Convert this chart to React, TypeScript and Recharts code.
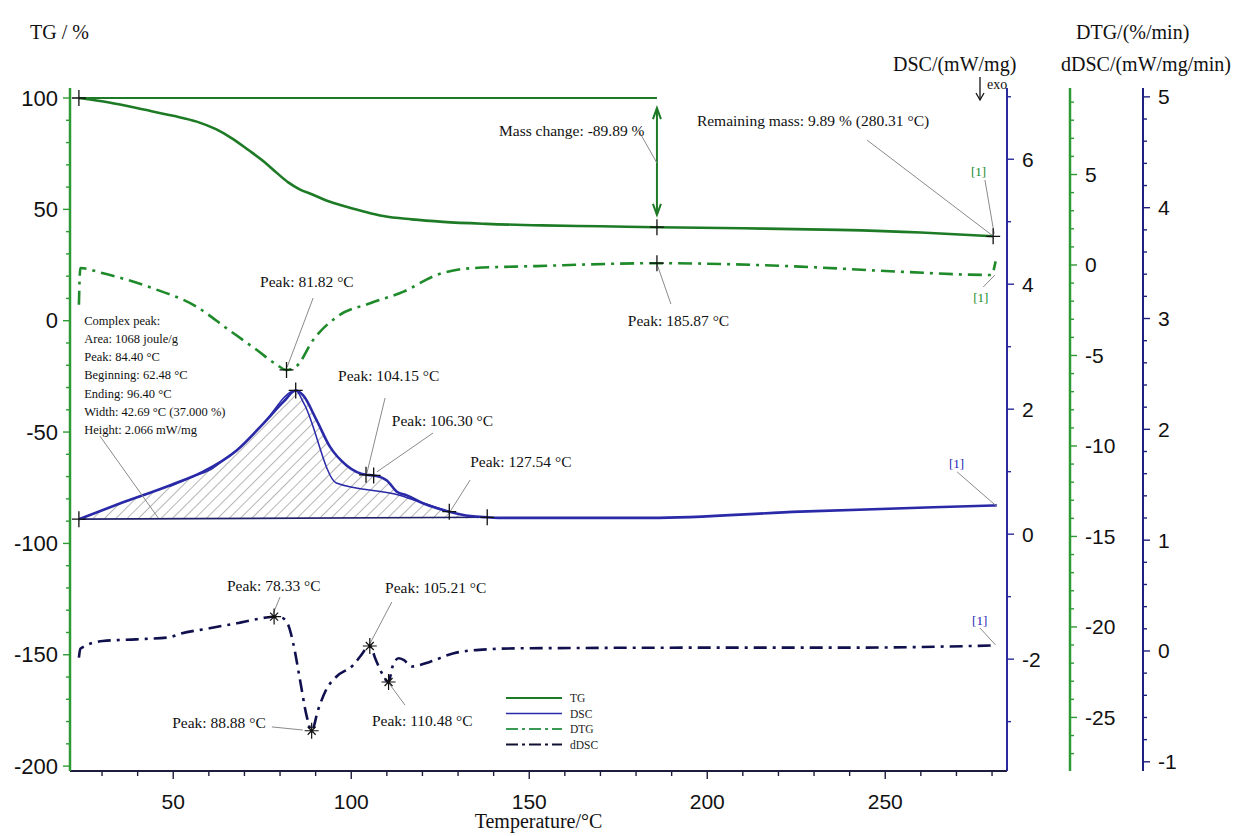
import React from 'react';
import { ComposedChart, Line, Area, XAxis, YAxis, ReferenceLine, ReferenceDot, Legend } from 'recharts';

const SERIF = '"Liberation Serif", "Times New Roman", serif';
const SANS = '"Liberation Sans", Arial, sans-serif';

// ---------- data ----------
// TG (%)
const tgTemp = [23.5, 32, 42.1, 50, 56.6, 62, 66.6, 71, 75.6, 79, 82.3, 85.5, 88.9, 93, 97.9, 103, 109, 117, 125.8, 138, 153.6, 170, 185.87, 210, 237, 260, 280.31];
const tgVal = [100, 98.0, 94.7, 92.0, 89.4, 86.0, 81.8, 76.8, 71.3, 66.5, 62.1, 59.0, 56.8, 54.0, 51.5, 49.3, 47.0, 45.5, 44.4, 43.5, 42.8, 42.4, 42.0, 41.5, 40.8, 39.6, 37.9];

// DTG (%/min)
const dtgTemp = [23.5, 23.9, 30, 44, 56.5, 65, 73.5, 79, 81.82, 84.7, 89.3, 96, 105.5, 114.7, 124, 133.5, 152, 185.87, 226, 254, 279.8, 281.0];
const dtgVal = [-2.2, -0.17, -0.44, -1.27, -2.3, -3.5, -4.7, -5.5, -5.8, -5.58, -4.14, -2.86, -2.1, -1.47, -0.55, -0.18, -0.06, 0.1, -0.09, -0.37, -0.55, 0.2];

// DSC (mW/mg)
const dscTemp = [23.5, 35, 49, 58.4, 67.8, 75.3, 81, 84.4, 86.5, 90.3, 94, 98.7, 104.15, 106.3, 110, 112.8, 115.6, 120.3, 127.54, 133.5, 138.2, 142, 184, 226, 263.5, 281.3];
const dscVal = [0.24, 0.49, 0.78, 1.0, 1.34, 1.77, 2.12, 2.30, 2.22, 1.82, 1.40, 1.10, 0.95, 0.94, 0.86, 0.68, 0.62, 0.49, 0.36, 0.29, 0.27, 0.26, 0.26, 0.36, 0.43, 0.46];
const peakEnd = 138.2;
const peakBase = 0.25;

// peak separation line of the complex DSC peak
const sepTemp = [49, 56, 61, 64.5, 67.8, 75.3, 84.4, 86.8, 95.8, 113.8, 118, 127.54];
const sepVal = [0.76, 0.93, 1.05, 1.2, 1.34, 1.77, 2.30, 2.08, 0.82, 0.62, 0.54, 0.36];

// integration baseline
const baseTemp = [23.5, 138.2];
const baseVal = [0.24, 0.27];

// dDSC (mW/mg/min)
const ddscTemp = [23.5, 23.9, 30.2, 39.6, 49, 51.8, 60.2, 67.8, 76.8, 78.33, 80.5, 82.3, 83.7, 85.6, 87.5, 88.88, 90.7, 93.1, 95.9, 100.6, 102.5, 105.21, 106.9, 108.6, 110.48, 111.6, 113.3, 114.7, 117, 122.2, 128.8, 138.2, 147.6, 200, 240, 281];
const ddscVal = [-0.06, 0.02, 0.09, 0.105, 0.124, 0.153, 0.205, 0.25, 0.305, 0.31, 0.30, 0.235, 0.07, -0.26, -0.59, -0.72, -0.53, -0.34, -0.23, -0.126, -0.05, 0.045, -0.08, -0.2, -0.28, -0.14, -0.066, -0.08, -0.14, -0.097, -0.02, 0.015, 0.024, 0.03, 0.03, 0.05];

// tick labels
const tempTicks = [50, 100, 150, 200, 250];
const tgTicks = [-200, -150, -100, -50, 0, 50, 100];
const dscTicks = [-2, 0, 2, 4, 6];
const dtgTicks = [-25, -20, -15, -10, -5, 0, 5];
const ddscTicks = [-1, 0, 1, 2, 3, 4, 5];

// axis ids (alphabetical order = stacking order of the right-hand axes)
const AX_TG = 'a0_tg';
const AX_DSC = 'r1_dsc';
const AX_DTG = 'r2_dtg';
const AX_DDSC = 'r3_ddsc';

// ---------- helpers ----------
const range = (a: number, b: number, s: number) => {
  const out: number[] = [];
  for (let v = a; v <= b + s / 1000; v += s) out.push(Math.round(v * 1000) / 1000);
  return out;
};
const zip = (ts: number[], vs: number[]) => ts.map((t, i) => ({ t, v: vs[i] }));

const tgData = zip(tgTemp, tgVal);
const dtgData = zip(dtgTemp, dtgVal);
const dscData = zip(dscTemp, dscVal);
const hatchData = dscData.filter((d) => d.t <= peakEnd);
const sepData = zip(sepTemp, sepVal);
const baseData = zip(baseTemp, baseVal);
const ddscData = zip(ddscTemp, ddscVal);

const C_TG = '#1d7a25';
const C_TG_AX = '#2f9a35';
const C_DTG = '#1f8a2a';
const C_DSC = '#2a2aa8';
const C_DSC_AX = '#2a2a9a';
const C_DDSC = '#10104e';
const C_DDSC_AX = '#202080';
const C_LEAD = '#8a8a8a';
const C_G1 = '#148c2a';
const C_B1 = '#2424b8';

const isMajor = (v: number, majors: number[]) => majors.some((m) => Math.abs(m - v) < 1e-6);

const makeYTick = (side: 'left' | 'right', majors: number[], color: string, fontSize: number) => (p: any) => {
  const { x, y, payload } = p;
  const v = payload.value;
  const major = isMajor(v, majors);
  const len = major ? 7 : 4;
  const dir = side === 'left' ? -1 : 1;
  return (
    <g>
      <line x1={x} y1={y} x2={x + dir * len} y2={y} stroke={color} strokeWidth={1.4} />
      {major && (
        <text x={x + dir * (len + (side === 'left' ? 5 : 8))} y={y} textAnchor={side === 'left' ? 'end' : 'start'}
          dominantBaseline="central" fontFamily={SANS} fontSize={fontSize} fill="#111">{String(v)}</text>
      )}
    </g>
  );
};

const XTick = (p: any) => {
  const { x, y, payload } = p;
  const major = isMajor(payload.value, tempTicks);
  const len = major ? 8 : 5;
  return (
    <g>
      <line x1={x} y1={y} x2={x} y2={y + len} stroke="#1c1c3c" strokeWidth={1.4} />
      {major && (
        <text x={x} y={y + 30} textAnchor="middle" dominantBaseline="central" fontFamily={SANS} fontSize={21} fill="#111">{String(payload.value)}</text>
      )}
    </g>
  );
};

// ---------- annotations (data coordinates on the TG axis) ----------
const notes = [
  { text: 'Mass change: -89.89 %', t: 141.5, v: 85.2, color: '#111' },
  { text: 'Remaining mass: 9.89 % (280.31 °C)', t: 197.1, v: 89.7, color: '#111' },
  { text: '[1]', t: 274.1, v: 67.2, color: C_G1 },
  { text: 'Peak: 81.82 °C', t: 74.4, v: 17.4, color: '#111' },
  { text: 'Peak: 185.87 °C', t: 177.7, v: 0.3, color: '#111' },
  { text: '[1]', t: 274.7, v: 10.6, color: C_G1 },
  { text: 'Peak: 104.15 °C', t: 96.3, v: -24.4, color: '#111' },
  { text: 'Peak: 106.30 °C', t: 111.4, v: -44.6, color: '#111' },
  { text: 'Peak: 127.54 °C', t: 133.4, v: -63.4, color: '#111' },
  { text: '[1]', t: 267.9, v: -63.9, color: C_B1 },
  { text: 'Peak: 78.33 °C', t: 65.1, v: -118.7, color: '#111' },
  { text: 'Peak: 105.21 °C', t: 109.5, v: -120.0, color: '#111' },
  { text: 'Peak: 88.88 °C', t: 49.7, v: -180.6, color: '#111' },
  { text: 'Peak: 110.48 °C', t: 105.8, v: -179.3, color: '#111' },
  { text: '[1]', t: 274.4, v: -134.4, color: C_B1 },
];

const complexLines = [
  'Complex peak:',
  'Area: 1068 joule/g',
  'Peak: 84.40 °C',
  'Beginning: 62.48 °C',
  'Ending: 96.40 °C',
  'Width: 42.69 °C (37.000 %)',
  'Height: 2.066 mW/mg',
];

const leaders: number[][] = [
  [181.1, 84.3, 185.87, 70.8],
  [244.9, 81.1, 280.31, 38.0],
  [278.0, 63.2, 280.6, 39.0],
  [89.3, 10.2, 82.0, -20.8],
  [185.87, 25.5, 189.8, 7.5],
  [277.5, 15.1, 280.8, 20.5],
  [29.4, -51.8, 45.8, -88.6],
  [109.5, -34.7, 104.4, -68.4],
  [123.0, -50.4, 107.2, -67.9],
  [133.4, -71.5, 127.7, -85.9],
  [270.2, -67.9, 281.2, -83.2],
  [80.0, -124.1, 77.7, -133.0],
  [111.4, -126.3, 104.9, -146.1],
  [77.7, -182.4, 86.4, -183.8],
  [115.1, -172.6, 110.3, -162.2],
  [276.6, -138.0, 281.0, -145.6],
];

const crosses = [
  { t: 23.5, v: 100, axis: AX_TG },
  { t: 185.87, v: 42.0, axis: AX_TG },
  { t: 280.31, v: 37.9, axis: AX_TG },
  { t: 81.82, v: -5.8, axis: AX_DTG },
  { t: 185.87, v: 0.1, axis: AX_DTG },
  { t: 23.5, v: 0.24, axis: AX_DSC },
  { t: 84.4, v: 2.3, axis: AX_DSC },
  { t: 104.15, v: 0.95, axis: AX_DSC },
  { t: 106.3, v: 0.94, axis: AX_DSC },
  { t: 127.54, v: 0.36, axis: AX_DSC },
  { t: 138.2, v: 0.27, axis: AX_DSC },
];
const stars = [
  { t: 78.33, v: 0.31 },
  { t: 88.88, v: -0.72 },
  { t: 105.21, v: 0.045 },
  { t: 110.48, v: -0.28 },
];

const legendRows = [
  { name: 'TG', color: C_TG, dash: undefined as string | undefined, w: 2.2 },
  { name: 'DSC', color: C_DSC, dash: undefined, w: 1.6 },
  { name: 'DTG', color: '#3a9a55', dash: '12 4 3 4', w: 2 },
  { name: 'dDSC', color: '#111133', dash: '12 4 3 4', w: 2 },
];

const renderLegend = () => (
  <svg width={150} height={70}>
    {legendRows.map((r, i) => (
      <g key={r.name}>
        <line x1={6} x2={62} y1={10 + i * 15.5} y2={10 + i * 15.5} stroke={r.color} strokeWidth={r.w} strokeDasharray={r.dash} />
        <text x={70} y={10 + i * 15.5} dominantBaseline="central" fontFamily={SERIF} fontSize={11.5} fill="#222">{r.name}</text>
      </g>
    ))}
  </svg>
);

const titleStyle: React.CSSProperties = { position: 'absolute', fontFamily: SERIF, fontSize: 20, color: '#111', whiteSpace: 'nowrap', lineHeight: '20px' };

export default function App() {
  return (
    <div style={{ position: 'absolute', left: 0, top: 0, width: 1255, height: 836, background: '#fff' }}>
      <svg width={0} height={0} style={{ position: 'absolute' }}>
        <defs>
          <pattern id="hatch" width={8} height={8} patternUnits="userSpaceOnUse" patternTransform="rotate(45)">
            <line x1={0} y1={0} x2={0} y2={8} stroke="#6e6e6e" strokeWidth={1} />
          </pattern>
        </defs>
      </svg>
      <ComposedChart width={1255} height={836} margin={{ top: 88, right: 52, bottom: 0, left: 0 }}>
        <XAxis type="number" dataKey="t" domain={[21, 284.2]} allowDataOverflow ticks={range(30, 280, 10)} interval={0}
          tick={XTick} tickLine={false} tickSize={0} tickMargin={0} height={65}
          axisLine={{ stroke: '#1c1c3c', strokeWidth: 2 }}
          label={{ value: 'Temperature/°C', position: 'insideBottom', offset: 8, fill: '#111', fontSize: 20, fontFamily: SERIF }} />
        <YAxis yAxisId={AX_TG} orientation="left" width={70} type="number" domain={[-202.2, 104.5]} allowDataOverflow
          ticks={range(-200, 100, 10)} interval={0} tick={makeYTick('left', tgTicks, C_TG_AX, 22)} tickLine={false} tickSize={0} tickMargin={0}
          axisLine={{ stroke: C_TG_AX, strokeWidth: 2.5 }} />
        <YAxis yAxisId={AX_DSC} orientation="right" width={63} type="number" domain={[-3.79, 7.14]} allowDataOverflow
          ticks={range(-3, 7, 1)} interval={0} tick={makeYTick('right', dscTicks, C_DSC_AX, 21)} tickLine={false} tickSize={0} tickMargin={0}
          axisLine={{ stroke: C_DSC_AX, strokeWidth: 2 }} />
        <YAxis yAxisId={AX_DTG} orientation="right" width={73} type="number" domain={[-27.96, 9.78]} allowDataOverflow
          ticks={range(-27, 9, 1)} interval={0} tick={makeYTick('right', dtgTicks, C_TG_AX, 21)} tickLine={false} tickSize={0} tickMargin={0}
          axisLine={{ stroke: C_TG_AX, strokeWidth: 2.5 }} />
        <YAxis yAxisId={AX_DDSC} orientation="right" width={60} type="number" domain={[-1.083, 5.08]} allowDataOverflow
          ticks={range(-1, 5, 0.2)} interval={0} tick={makeYTick('right', ddscTicks, C_DDSC_AX, 21)} tickLine={false} tickSize={0} tickMargin={0}
          axisLine={{ stroke: C_DDSC_AX, strokeWidth: 2 }} />

        <Area data={hatchData} dataKey="v" yAxisId={AX_DSC} type="monotone" baseValue={peakBase} fill="url(#hatch)" fillOpacity={1}
          stroke="none" isAnimationActive={false} dot={false} activeDot={false} legendType="none" />
        <Line data={baseData} dataKey="v" yAxisId={AX_DSC} type="linear" stroke="#22226a" strokeWidth={1.6} dot={false} isAnimationActive={false} legendType="none" />
        <Line data={sepData} dataKey="v" yAxisId={AX_DSC} type="monotone" stroke={C_DSC} strokeWidth={1.5} dot={false} isAnimationActive={false} legendType="none" />

        <Line name="TG" data={tgData} dataKey="v" yAxisId={AX_TG} type="monotone" stroke={C_TG} strokeWidth={2.6} dot={false} isAnimationActive={false} />
        <Line name="DSC" data={dscData} dataKey="v" yAxisId={AX_DSC} type="monotone" stroke={C_DSC} strokeWidth={2.6} dot={false} isAnimationActive={false} />
        <Line name="DTG" data={dtgData} dataKey="v" yAxisId={AX_DTG} type="monotone" stroke={C_DTG} strokeWidth={2.6} strokeDasharray="14 6 3 6" dot={false} isAnimationActive={false} />
        <Line name="dDSC" data={ddscData} dataKey="v" yAxisId={AX_DDSC} type="monotone" stroke={C_DDSC} strokeWidth={2.6} strokeDasharray="13 6 3 6" dot={false} isAnimationActive={false} />

        {/* 100 % reference line and mass change arrow */}
        <ReferenceLine yAxisId={AX_TG} segment={[{ x: 23.5, y: 100 }, { x: 185.87, y: 100 }]} stroke={C_TG} strokeWidth={2} ifOverflow="visible" />
        <ReferenceLine yAxisId={AX_TG} segment={[{ x: 185.87, y: 95.5 }, { x: 185.87, y: 47.5 }]} ifOverflow="visible"
          shape={(p: any) => {
            const { x1, y1, x2, y2 } = p;
            const top = Math.min(y1, y2);
            const bot = Math.max(y1, y2);
            return (
              <g stroke={C_TG} strokeWidth={2} fill="none">
                <line x1={x1} y1={top} x2={x2} y2={bot} />
                <path d={`M${x1 - 4},${top + 11}L${x1},${top}L${x1 + 4},${top + 11}`} />
                <path d={`M${x1 - 4},${bot - 11}L${x1},${bot}L${x1 + 4},${bot - 11}`} />
              </g>
            );
          }} />

        {leaders.map((l, i) => (
          <ReferenceLine key={'ld' + i} yAxisId={AX_TG} segment={[{ x: l[0], y: l[1] }, { x: l[2], y: l[3] }]} stroke={C_LEAD} strokeWidth={1} ifOverflow="visible" />
        ))}

        {crosses.map((c, i) => (
          <ReferenceDot key={'cr' + i} x={c.t} y={c.v} yAxisId={c.axis} r={1} ifOverflow="visible"
            shape={(p: any) => (
              <path d={`M${p.cx - 7},${p.cy}H${p.cx + 7}M${p.cx},${p.cy - 8}V${p.cy + 8}`} stroke="#111" strokeWidth={1.3} fill="none" />
            )} />
        ))}
        {stars.map((c, i) => (
          <ReferenceDot key={'st' + i} x={c.t} y={c.v} yAxisId={AX_DDSC} r={1} ifOverflow="visible"
            shape={(p: any) => (
              <path d={`M${p.cx - 7},${p.cy}H${p.cx + 7}M${p.cx},${p.cy - 8}V${p.cy + 8}M${p.cx - 4},${p.cy - 4}L${p.cx + 4},${p.cy + 4}M${p.cx - 4},${p.cy + 4}L${p.cx + 4},${p.cy - 4}`} stroke="#111" strokeWidth={1.2} fill="none" />
            )} />
        ))}

        {notes.map((n, i) => (
          <ReferenceDot key={'nt' + i} x={n.t} y={n.v} yAxisId={AX_TG} r={1} ifOverflow="visible"
            shape={(p: any) => (
              <text x={p.cx} y={p.cy} dominantBaseline="central" fontFamily={SERIF} fontSize={n.text === '[1]' ? 13 : 15.5} fill={n.color}>{n.text}</text>
            )} />
        ))}
        <ReferenceDot x={25.0} y={0} yAxisId={AX_TG} r={1} ifOverflow="visible"
          shape={(p: any) => (
            <text x={p.cx} y={p.cy} fontFamily={SERIF} fontSize={12.5} fill="#111" dominantBaseline="central">
              {complexLines.map((s, i) => (
                <tspan key={i} x={p.cx} y={p.cy + i * 18.2}>{s}</tspan>
              ))}
            </text>
          )} />

        <Legend layout="vertical" align="center" verticalAlign="middle" content={renderLegend}
          wrapperStyle={{ left: 500, top: 688, width: 150, height: 70 }} />
      </ComposedChart>

      <div style={{ ...titleStyle, left: 30, top: 22 }}>TG / %</div>
      <div style={{ ...titleStyle, left: 1076, top: 22 }}>DTG/(%/min)</div>
      <div style={{ ...titleStyle, left: 893, top: 54 }}>DSC/(mW/mg)</div>
      <div style={{ ...titleStyle, left: 1061, top: 54 }}>dDSC/(mW/mg/min)</div>
      <svg width={14} height={26} style={{ position: 'absolute', left: 973, top: 76 }}>
        <line x1={7} y1={1} x2={7} y2={23} stroke="#111" strokeWidth={1.3} />
        <path d="M3,17L7,24L11,17" stroke="#111" strokeWidth={1.3} fill="none" />
      </svg>
      <div style={{ ...titleStyle, left: 987, top: 78, fontSize: 14, lineHeight: '14px' }}>exo</div>
    </div>
  );
}
